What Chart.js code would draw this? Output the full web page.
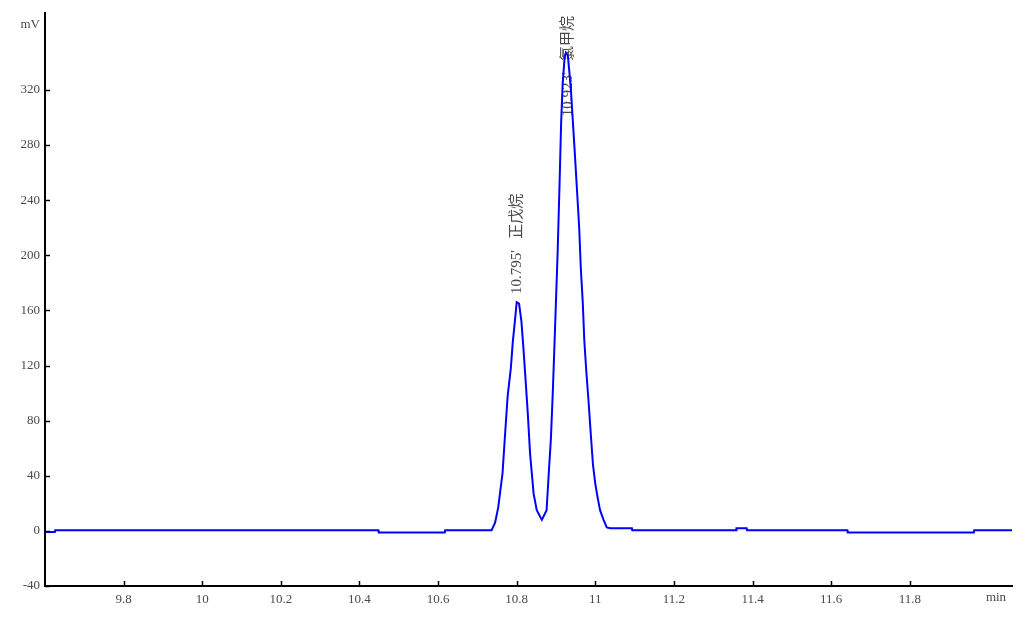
<!DOCTYPE html>
<html>
<head>
<meta charset="utf-8">
<script src="https://cdn.jsdelivr.net/npm/chart.js@4.4.0/dist/chart.umd.min.js"></script>
<style>
  html, body { margin: 0; padding: 0; background: #fff; }
  .chart-wrapper { width: 1034px; height: 620px; }
</style>
</head>
<body>
<div class="chart-wrapper">
  <canvas id="chromChart" width="1034" height="620"></canvas>
</div>
<script>
// retention time (min) and detector signal (mV)
const timeMin = [
  9.6, 9.625, 9.626, 10.448, 10.449, 10.617, 10.618, 10.736,
  10.738, 10.745, 10.753, 10.764, 10.772, 10.777, 10.785, 10.790, 10.796, 10.800,
  10.806, 10.812, 10.817, 10.822, 10.828, 10.834, 10.843, 10.851, 10.864,
  10.876, 10.882, 10.887, 10.892, 10.898, 10.904, 10.909, 10.913, 10.917, 10.922, 10.925,
  10.930, 10.933, 10.938, 10.942, 10.947, 10.953, 10.959, 10.963, 10.968, 10.972,
  10.977, 10.983, 10.988, 10.994, 11.000, 11.006, 11.012, 11.021, 11.029, 11.038,
  11.093, 11.094, 11.358, 11.359, 11.385, 11.386, 11.641, 11.642, 11.963, 11.964, 12.06
];
const signalMv = [
  -0.8, -0.8, 0.4, 0.4, -1.1, -1.1, 0.4, 0.4,
  1.6, 6, 17, 42, 77, 98, 118, 137, 154, 166,
  165, 152, 133, 112, 86, 56, 27, 15, 8,
  15, 44, 67, 102, 151, 201, 252, 296, 325, 344, 347,
  345, 336, 320, 301, 278, 249, 220, 191, 166, 138,
  116, 93, 72, 48, 34, 24, 15, 8, 2.5, 2,
  2, 0.4, 0.4, 2, 2, 0.4, 0.4, -1.1, -1.1, 0.4, 0.4
];
const xTickValues = [9.8, 10, 10.2, 10.4, 10.6, 10.8, 11, 11.2, 11.4, 11.6, 11.8];
const yTickValues = [-40, 0, 40, 80, 120, 160, 200, 240, 280, 320];
const peakTimes = [10.795, 10.925];
const peakLabels = ["10.795'   正戊烷", "10.923'   氯甲烷"];

const textFont = "13px 'Liberation Serif', 'Noto Sans CJK SC', serif";
const peakFont = "15px 'Liberation Serif', 'Noto Sans CJK SC', serif";
const textColor = '#4a4a4a';

// short tick marks pointing into the plot, like the instrument software
const innerTicks = {
  id: 'innerTicks',
  afterDraw(chart) {
    const { ctx, chartArea, scales } = chart;
    ctx.save();
    ctx.strokeStyle = '#000';
    ctx.lineWidth = 1.5;
    ctx.beginPath();
    xTickValues.forEach(v => {
      const px = Math.round(scales.x.getPixelForValue(v)) + 0.5;
      ctx.moveTo(px, chartArea.bottom);
      ctx.lineTo(px, chartArea.bottom - 5);
    });
    yTickValues.forEach(v => {
      const py = Math.round(scales.y.getPixelForValue(v)) + 0.5;
      ctx.moveTo(chartArea.left, py);
      ctx.lineTo(chartArea.left + 5, py);
    });
    ctx.stroke();
    ctx.restore();
  }
};

const unitLabels = {
  id: 'unitLabels',
  afterDraw(chart) {
    const { ctx, chartArea } = chart;
    ctx.save();
    ctx.font = textFont;
    ctx.fillStyle = textColor;
    ctx.textBaseline = 'middle';
    ctx.textAlign = 'right';
    ctx.fillText('mV', chartArea.left - 5, 25);
    ctx.textAlign = 'center';
    ctx.fillText('min', 996, chartArea.bottom + 12);
    ctx.restore();
  }
};

// rotated peak annotations; drawn before the trace so the line sits on top
const peakNames = {
  id: 'peakNames',
  beforeDatasetsDraw(chart, args, opts) {
    const { ctx, scales } = chart;
    ctx.save();
    ctx.font = peakFont;
    ctx.fillStyle = textColor;
    ctx.textBaseline = 'middle';
    ctx.textAlign = 'left';
    peakTimes.forEach((t, i) => {
      const px = scales.x.getPixelForValue(t) + 2;
      const py = scales.y.getPixelForValue(opts.anchors[i]);
      ctx.save();
      ctx.translate(px, py);
      ctx.rotate(-Math.PI / 2);
      ctx.fillText(peakLabels[i], 0, 0);
      ctx.restore();
    });
    ctx.restore();
  }
};

const ctx = document.getElementById('chromChart').getContext('2d');
const chromChart = new Chart(ctx, {
  type: 'line',
  data: {
    datasets: [{
      data: timeMin.map((t, i) => ({ x: t, y: signalMv[i] })),
      borderColor: '#0000ff',
      borderWidth: 2,
      pointRadius: 0,
      tension: 0,
      fill: false
    }]
  },
  options: {
    responsive: false,
    animation: false,
    layout: { padding: { top: 12, right: 22, left: 0, bottom: 0 } },
    plugins: {
      legend: { display: false },
      tooltip: { enabled: false },
      peakNames: { anchors: [172, 301] }
    },
    scales: {
      x: {
        type: 'linear',
        min: 9.6,
        max: 12.06,
        afterBuildTicks: s => { s.ticks = xTickValues.map(v => ({ value: v })); },
        afterFit: s => { s.height = 34; },
        grid: { display: true, drawOnChartArea: false, drawTicks: false },
        border: { display: true, color: '#000', width: 2 },
        ticks: {
          padding: 6,
          maxRotation: 0,
          autoSkip: false,
          color: textColor,
          font: { family: "'Liberation Serif', serif", size: 13 },
          callback: v => String(Math.round(v * 10) / 10)
        }
      },
      y: {
        min: -40,
        max: 376,
        afterBuildTicks: s => { s.ticks = yTickValues.map(v => ({ value: v })); },
        afterFit: s => { s.width = 45; },
        grid: { display: true, drawOnChartArea: false, drawTicks: false },
        border: { display: true, color: '#000', width: 2 },
        ticks: {
          padding: 5,
          autoSkip: false,
          color: textColor,
          font: { family: "'Liberation Serif', serif", size: 13 },
          callback: v => String(v)
        }
      }
    }
  },
  plugins: [innerTicks, unitLabels, peakNames]
});
</script>
</body>
</html>
